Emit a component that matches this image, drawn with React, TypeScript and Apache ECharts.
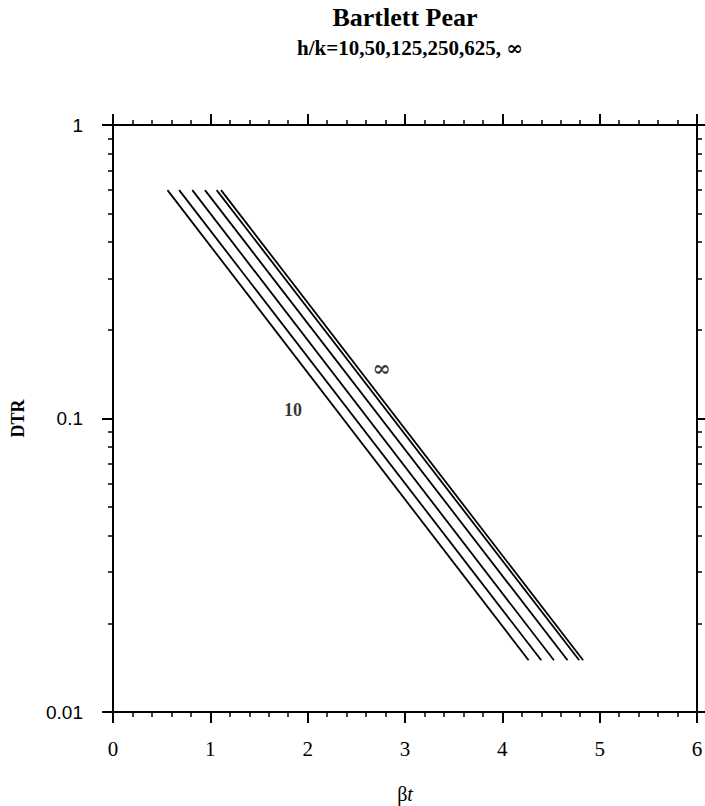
import React, { useEffect, useRef } from "react";
import * as echarts from "echarts";

const hkLabels = ["10", "50", "125", "250", "625", "∞"];
const dtrStart = 0.6;
const dtrEnd = 0.015;
const btStart = [0.56, 0.68, 0.815, 0.945, 1.065, 1.11];
const btEnd = [4.27, 4.4, 4.53, 4.67, 4.79, 4.83];
const curveLabels = [
  { text: "10", bt: 1.85, dtr: 0.107, size: 18, font: "serif" },
  { text: "∞", bt: 2.76, dtr: 0.149, size: 22, font: "dejavu" },
];
const xTicks = [0, 1, 2, 3, 4, 5, 6];
const yDecades = [0.01, 0.1, 1];

const SERIF = "'Liberation Serif', 'Times New Roman', serif";
const SANS = "'Liberation Sans', Arial, sans-serif";
const DEJAVU = "'DejaVu Serif', serif";

const lg = (v: number) => Math.log10(v);

export default function App() {
  const ref = useRef<HTMLDivElement>(null);
  useEffect(() => {
    if (!ref.current) return;
    const chart = echarts.init(ref.current, undefined, { renderer: "svg" });
    const yMin = lg(yDecades[0]);
    const yMax = lg(yDecades[yDecades.length - 1]);
    const minorVals: number[] = [];
    for (let d = 0; d < yDecades.length - 1; d++) {
      for (let m = 2; m <= 9; m++) minorVals.push(lg(yDecades[d] * m));
    }
    const lineStyle = { color: "#000", width: 2 };
    const xBase = {
      type: "value" as const,
      min: xTicks[0],
      max: xTicks[xTicks.length - 1],
      interval: 1,
      axisLine: { show: true, onZero: false, lineStyle },
      axisTick: { show: true, inside: false, length: 11, lineStyle: { color: "#000", width: 2 } },
      minorTick: { show: true, splitNumber: 5, length: 5, lineStyle: { color: "#000", width: 1.5 } },
      splitLine: { show: false },
      minorSplitLine: { show: false },
    };
    const yBase = {
      type: "value" as const,
      min: yMin,
      max: yMax,
      interval: 1,
      axisLine: { show: true, onZero: false, lineStyle },
      splitLine: { show: false },
    };
    const yMajor = (pos: "left" | "right", labels: boolean) => ({
      ...yBase,
      position: pos,
      axisTick: { show: true, inside: false, length: 11, lineStyle: { color: "#000", width: 2 } },
      axisLabel: {
        show: labels,
        margin: 30,
        fontFamily: SANS,
        fontSize: 19,
        color: "#000",
        formatter: (v: number) => String(+Math.pow(10, v).toPrecision(1)),
      },
      ...(labels
        ? {
            name: "DTR",
            nameLocation: "middle" as const,
            nameGap: 86,
            nameTextStyle: { fontFamily: SERIF, fontSize: 18, fontWeight: "bold", color: "#000" },
          }
        : {}),
    });
    const yMinor = (pos: "left" | "right") => ({
      ...yBase,
      position: pos,
      axisLine: { show: false, onZero: false },
      axisTick: {
        show: true,
        inside: false,
        length: 5,
        customValues: minorVals,
        lineStyle: { color: "#000", width: 1.5 },
      },
      axisLabel: { show: false },
    });

    const series: any[] = btStart.map((s, i) => ({
      type: "line",
      name: hkLabels[i],
      xAxisIndex: 0,
      yAxisIndex: 0,
      symbol: "none",
      lineStyle: { color: "#000", width: 1.8 },
      data: [
        [s, lg(dtrStart)],
        [btEnd[i], lg(dtrEnd)],
      ],
    }));
    series.push({
      type: "scatter",
      xAxisIndex: 0,
      yAxisIndex: 0,
      symbolSize: 0,
      data: curveLabels.map((c) => ({
        value: [c.bt, lg(c.dtr)],
        label: {
          show: true,
          position: "inside",
          formatter: c.text,
          fontFamily: c.font === "dejavu" ? DEJAVU : SERIF,
          fontWeight: "bold",
          fontSize: c.size,
          color: "#000",
        },
      })),
    });

    chart.setOption({
      animation: false,
      backgroundColor: "#fff",
      grid: {
        left: 113,
        right: 8,
        top: 125,
        bottom: 94,
        containLabel: false,
        outerBoundsMode: "none",
      },
      xAxis: [
        {
          ...xBase,
          position: "bottom",
          axisLabel: { show: true, margin: 26, fontFamily: SERIF, fontSize: 21, color: "#000" },
          name: "{a|β}{b|t}",
          nameLocation: "middle",
          nameGap: 72,
          nameTextStyle: {
            rich: {
              a: { fontFamily: SERIF, fontSize: 20, color: "#000" },
              b: { fontFamily: SERIF, fontSize: 20, fontStyle: "italic", color: "#000" },
            },
          },
        },
        { ...xBase, position: "top", axisLabel: { show: false } },
      ],
      yAxis: [yMajor("left", true), yMinor("left"), yMajor("right", false), yMinor("right")],
      graphic: [
        {
          type: "text",
          x: 405,
          y: 17,
          style: {
            text: "Bartlett Pear",
            fontFamily: SERIF,
            fontWeight: "bold",
            fontSize: 26,
            fill: "#000",
            align: "center",
            verticalAlign: "middle",
          },
        },
        {
          type: "text",
          x: 410,
          y: 48,
          style: {
            text: "h/k=10,50,125,250,625, {inf|∞}",
            fontFamily: SERIF,
            fontWeight: "bold",
            fontSize: 21,
            fill: "#000",
            align: "center",
            verticalAlign: "middle",
            rich: {
              inf: { fontFamily: DEJAVU, fontWeight: "bold", fontSize: 20, fill: "#000" },
            },
          },
        },
      ],
      series,
    });
    return () => chart.dispose();
  }, []);
  return (
    <div
      ref={ref}
      style={{ position: "fixed", left: 0, top: 0, width: 705, height: 806, background: "#fff" }}
    />
  );
}
